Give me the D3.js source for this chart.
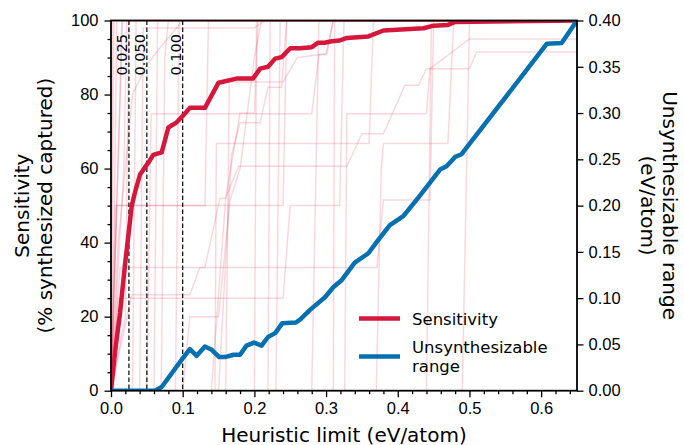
<!DOCTYPE html>
<html>
<head>
<meta charset="utf-8">
<script src="https://cdn.jsdelivr.net/npm/d3@7"></script>
<style>
  body { margin: 0; background: #fff; }
  svg { font-family: "DejaVu Sans", sans-serif; }
  .axis path { display: none; }
  .axis line { stroke: #000; stroke-width: 1.3; }
  .axis text { font-size: 16.5px; fill: #000; }
</style>
</head>
<body>
<div id="chart-area"></div>
<script>
// sensitivity (% synthesized captured) vs heuristic limit (eV/atom)
const sensLimit = [0, 0.006, 0.0126, 0.0195, 0.029, 0.034, 0.0405, 0.052, 0.059, 0.0707, 0.080, 0.0916, 0.100, 0.110, 0.131, 0.150, 0.175, 0.198, 0.208, 0.219, 0.229, 0.238, 0.250, 0.264, 0.280, 0.289, 0.298, 0.308, 0.319, 0.329, 0.359, 0.380, 0.436, 0.450, 0.470, 0.480, 0.650];
const sensValue = [0, 11, 21, 34, 50, 54, 58.4, 61.6, 63.7, 64.4, 71.1, 72.5, 74.2, 76.4, 76.4, 83.2, 84.3, 84.3, 87, 87.5, 89.7, 90.1, 92.5, 92.5, 92.8, 94, 94, 94.4, 94.6, 95.3, 95.7, 97.3, 97.9, 98.6, 98.8, 99.6, 100];

// unsynthesizable range (eV/atom) vs heuristic limit
const rangeLimit = [0, 0.061, 0.0707, 0.100, 0.110, 0.1195, 0.131, 0.1405, 0.151, 0.159, 0.171, 0.180, 0.189, 0.1995, 0.210, 0.219, 0.229, 0.239, 0.258, 0.264, 0.2776, 0.2985, 0.310, 0.322, 0.340, 0.359, 0.371, 0.389, 0.4077, 0.426, 0.459, 0.468, 0.480, 0.489, 0.608, 0.6286, 0.650];
const rangeValue = [0, 0, 0.004, 0.035, 0.045, 0.0377, 0.0478, 0.0442, 0.0363, 0.0363, 0.0388, 0.0388, 0.0487, 0.052, 0.0487, 0.058, 0.0622, 0.073, 0.0737, 0.077, 0.0873, 0.101, 0.1118, 0.1197, 0.1383, 0.1485, 0.161, 0.179, 0.1887, 0.206, 0.239, 0.2426, 0.2526, 0.2555, 0.3749, 0.3756, 0.40];

// individual system curves (faint), each [limit, sensitivity] pairs
const systemCurves = [
  [[0, 0], [0.002, 100], [0.65, 100]],
  [[0, 0], [0.004, 100], [0.65, 100]],
  [[0, 0], [0.005, 50], [0.008, 100], [0.65, 100]],
  [[0, 0], [0.006, 50], [0.131, 50], [0.136, 100], [0.65, 100]],
  [[0, 0], [0.008, 50], [0.24, 50], [0.245, 100], [0.65, 100]],
  [[0, 0], [0.01, 25], [0.24, 25], [0.25, 50], [0.319, 50], [0.325, 100], [0.65, 100]],
  [[0, 0], [0.0126, 33.3], [0.371, 33.3], [0.38, 51.5], [0.445, 51.5], [0.45, 100], [0.65, 100]],
  [[0, 0], [0.012, 75], [0.015, 100], [0.65, 100]],
  [[0, 0], [0.016, 100], [0.65, 100]],
  [[0, 0], [0.018, 60], [0.022, 100], [0.65, 100]],
  [[0, 0], [0.02, 20], [0.025, 100], [0.65, 100]],
  [[0, 0], [0.029, 25.9], [0.11, 25.9], [0.124, 33.3], [0.131, 33.3], [0.152, 52], [0.16, 52], [0.18, 75], [0.2, 75], [0.205, 100], [0.65, 100]],
  [[0, 0], [0.03, 0], [0.035, 100], [0.65, 100]],
  [[0, 0], [0.04, 0], [0.045, 98], [0.2, 98], [0.215, 100], [0.65, 100]],
  [[0, 0], [0.01, 40], [0.03, 80], [0.05, 88], [0.07, 93], [0.1, 100], [0.65, 100]],
  [[0, 0], [0.05, 0], [0.056, 74.8], [0.28, 74.8], [0.29, 90.8], [0.301, 90.8], [0.31, 100], [0.65, 100]],
  [[0, 0], [0.06, 0], [0.065, 100], [0.65, 100]],
  [[0, 0], [0.07, 0], [0.075, 90], [0.08, 100], [0.65, 100]],
  [[0, 0], [0.09, 0], [0.095, 100], [0.65, 100]],
  [[0, 0], [0.1, 0], [0.11, 20], [0.15, 20], [0.166, 51.5], [0.18, 60], [0.2, 90], [0.21, 100], [0.65, 100]],
  [[0, 0], [0.2, 0], [0.203, 100], [0.65, 100]],
  [[0, 0], [0.219, 0], [0.222, 100], [0.65, 100]],
  [[0, 0], [0.14, 0], [0.16, 52], [0.168, 56], [0.178, 60.6], [0.329, 60.6], [0.35, 69.4], [0.38, 69.4], [0.41, 82.5], [0.429, 82.5], [0.44, 87], [0.5, 87], [0.51, 91.5], [0.65, 91.5]],
  [[0, 0], [0.145, 0], [0.147, 66.8], [0.36, 66.8], [0.366, 100], [0.65, 100]],
  [[0, 0], [0.37, 0], [0.377, 60], [0.38, 66.8], [0.47, 66.8], [0.478, 100], [0.65, 100]],
  [[0, 0], [0.15, 0], [0.168, 63.6], [0.18, 72.4], [0.208, 72.4], [0.219, 82], [0.238, 82], [0.245, 100], [0.65, 100]],
  [[0, 0], [0.16, 0], [0.165, 83.4], [0.24, 83.4], [0.26, 90], [0.3, 91], [0.31, 100], [0.65, 100]],
  [[0, 0], [0.326, 0], [0.329, 74.8], [0.44, 74.8], [0.445, 87], [0.5, 95], [0.65, 95]],
  [[0, 0], [0.44, 0], [0.447, 100], [0.65, 100]],
  [[0, 0], [0.28, 0], [0.29, 100], [0.65, 100]],
  [[0, 0], [0.31, 0], [0.312, 100], [0.65, 100]],
  [[0, 0], [0.49, 0], [0.5, 100], [0.65, 100]],
  [[0, 0], [0.23, 0], [0.236, 100], [0.65, 100]]
];

const markLimits = [0.025, 0.05, 0.1];
const markLabels = ["0.025", "0.050", "0.100"];

const xTicks = [0, 0.1, 0.2, 0.3, 0.4, 0.5, 0.6];
const leftTicks = [0, 20, 40, 60, 80, 100];
const rightTicks = [0, 0.05, 0.1, 0.15, 0.2, 0.25, 0.3, 0.35, 0.4];

const legendLabels = [["Sensitivity"], ["Unsynthesizable", "range"]];

const red = "#d6173c";
const blue = "#0570b0";

const canvas_dims = { width: 684, height: 445 };
const plot = { left: 111, right: 577, top: 20.5, bottom: 390.7 };

const svg = d3
  .select("#chart-area")
  .append("svg")
  .attr("width", canvas_dims.width)
  .attr("height", canvas_dims.height);

const x = d3.scaleLinear().domain([0, 0.65]).range([plot.left, plot.right]);
const yL = d3.scaleLinear().domain([0, 100]).range([plot.bottom, plot.top]);
const yR = d3.scaleLinear().domain([0, 0.4]).range([plot.bottom, plot.top]);

svg
  .append("clipPath")
  .attr("id", "clip")
  .append("rect")
  .attr("x", plot.left)
  .attr("y", plot.top)
  .attr("width", plot.right - plot.left)
  .attr("height", plot.bottom - plot.top);

const area = svg.append("g").attr("clip-path", "url(#clip)");

// faint per-system curves
const faintLine = d3.line().x(d => x(d[0])).y(d => yL(d[1]));
area
  .selectAll(".faint")
  .data(systemCurves)
  .enter()
  .append("path")
  .attr("class", "faint")
  .attr("d", faintLine)
  .attr("fill", "none")
  .attr("stroke", red)
  .attr("stroke-opacity", 0.17)
  .attr("stroke-width", 1.5);

// dashed reference limits
area
  .selectAll(".mark")
  .data(markLimits)
  .enter()
  .append("line")
  .attr("x1", d => x(d))
  .attr("x2", d => x(d))
  .attr("y1", plot.top)
  .attr("y2", plot.bottom)
  .attr("stroke", "#000")
  .attr("stroke-width", 1.2)
  .attr("stroke-dasharray", "4.5,2.5");

svg
  .selectAll(".mark-label")
  .data(markLimits)
  .enter()
  .append("text")
  .attr("transform", d => `translate(${x(d) - 1.5},34) rotate(-90)`)
  .attr("text-anchor", "end")
  .attr("font-size", "14.5px")
  .text((d, i) => markLabels[i]);

// main lines
const sensLine = d3.line().x(d => x(d[0])).y(d => yL(d[1]));
area
  .append("path")
  .datum(d3.zip(sensLimit, sensValue))
  .attr("d", sensLine)
  .attr("fill", "none")
  .attr("stroke", red)
  .attr("stroke-width", 4.5)
  .attr("stroke-linejoin", "round");

const rangeLine = d3.line().x(d => x(d[0])).y(d => yR(d[1]));
area
  .append("path")
  .datum(d3.zip(rangeLimit, rangeValue))
  .attr("d", rangeLine)
  .attr("fill", "none")
  .attr("stroke", blue)
  .attr("stroke-width", 4.5)
  .attr("stroke-linejoin", "round");

// axes
const minorX = d3.range(0, 0.651, 0.02).filter(v => Math.abs(v * 10 - Math.round(v * 10)) > 1e-6);
const minorY = d3.range(0, 101, 5).filter(v => v % 20 !== 0);

svg
  .append("g")
  .attr("class", "axis")
  .attr("transform", `translate(0,${plot.bottom})`)
  .call(d3.axisBottom(x).tickValues(minorX).tickSize(3.5).tickFormat(""));
svg
  .append("g")
  .attr("class", "axis")
  .attr("transform", `translate(0,${plot.bottom})`)
  .call(d3.axisBottom(x).tickValues(xTicks).tickSize(6.5).tickPadding(5).tickFormat(d3.format(".1f")));

svg
  .append("g")
  .attr("class", "axis")
  .attr("transform", `translate(${plot.left},0)`)
  .call(d3.axisLeft(yL).tickValues(minorY).tickSize(3.5).tickFormat(""));
svg
  .append("g")
  .attr("class", "axis")
  .attr("transform", `translate(${plot.left},0)`)
  .call(d3.axisLeft(yL).tickValues(leftTicks).tickSize(6.5).tickPadding(6).tickFormat(d3.format("d")));

svg
  .append("g")
  .attr("class", "axis")
  .attr("transform", `translate(${plot.right},0)`)
  .call(d3.axisRight(yR).tickValues(rightTicks).tickSize(6.5).tickPadding(5).tickFormat(d3.format(".2f")));

// spines
svg
  .append("rect")
  .attr("x", plot.left)
  .attr("y", plot.top)
  .attr("width", plot.right - plot.left)
  .attr("height", plot.bottom - plot.top)
  .attr("fill", "none")
  .attr("stroke", "#000")
  .attr("stroke-width", 1.8);

// axis labels
svg
  .append("text")
  .attr("x", (plot.left + plot.right) / 2)
  .attr("y", 442)
  .attr("text-anchor", "middle")
  .attr("font-size", "20px")
  .text("Heuristic limit (eV/atom)");

const midY = (plot.top + plot.bottom) / 2;
const leftLabel = svg
  .append("text")
  .attr("transform", `translate(0,${midY}) rotate(-90)`)
  .attr("text-anchor", "middle")
  .attr("font-size", "20px");
leftLabel.append("tspan").attr("x", 0).attr("y", 29).text("Sensitivity");
leftLabel.append("tspan").attr("x", 0).attr("y", 52).text("(% synthesized captured)");

const rightLabel = svg
  .append("text")
  .attr("transform", `translate(684,${midY}) rotate(90)`)
  .attr("text-anchor", "middle")
  .attr("font-size", "20px");
rightLabel.append("tspan").attr("x", 0).attr("y", 21).text("Unsynthesizable range");
rightLabel.append("tspan").attr("x", 0).attr("y", 43).text("(eV/atom)");

// legend
const legend = svg.append("g");
const legendY = [318.5, 356.5];
const legendColors = [red, blue];
legendLabels.forEach((lines, i) => {
  legend
    .append("line")
    .attr("x1", 359)
    .attr("x2", 400)
    .attr("y1", legendY[i])
    .attr("y2", legendY[i])
    .attr("stroke", legendColors[i])
    .attr("stroke-width", 4.5);
  const t = legend
    .append("text")
    .attr("font-size", "16.5px");
  const startY = legendY[i] + 6 - (lines.length - 1) * 9.5;
  lines.forEach((s, j) => {
    t.append("tspan").attr("x", 412).attr("y", startY + j * 19).text(s);
  });
});
</script>
</body>
</html>
